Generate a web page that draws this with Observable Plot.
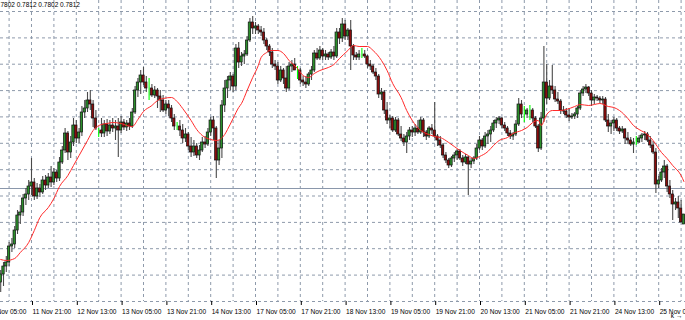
<!DOCTYPE html>
<html><head><meta charset="utf-8">
<script src="https://cdn.jsdelivr.net/npm/d3@7"></script>
<script src="https://cdn.jsdelivr.net/npm/@observablehq/plot@0.6"></script>
<style>
html,body{margin:0;padding:0;background:#fff;}
#chart{width:685px;height:320px;overflow:hidden;position:relative;}
</style></head><body><div id="chart"></div>
<script>
// Hourly NZDUSD candles, prices in pips (1/10000)
const openPips = [7744,7752,7760,7764,7780,7782,7796,7811,7814,7828,
7832,7840,7844,7830,7838,7834,7846,7841,7849,7844,
7854,7848,7864,7876,7893,7874,7884,7901,7888,7894,
7914,7918,7926,7922,7908,7896,7896,7893,7902,7895,
7901,7898,7900,7896,7904,7899,7903,7900,7914,7936,
7944,7951,7944,7938,7938,7931,7936,7930,7926,7916,
7922,7918,7908,7900,7900,7896,7888,7892,7880,7874,
7880,7871,7876,7884,7882,7894,7906,7898,7866,7878,
7921,7938,7946,7950,7940,7978,7964,7970,7972,7986,
8004,7998,8000,7996,7994,7986,7980,7974,7962,7960,
7946,7956,7948,7938,7960,7962,7956,7956,7946,7944,
7942,7952,7956,7973,7968,7976,7970,7972,7969,7974,
7970,7994,7988,8002,7990,7996,7980,7971,7969,7972,
7972,7970,7962,7960,7954,7950,7932,7934,7916,7906,
7908,7896,7906,7892,7888,7884,7890,7896,7894,7898,
7894,7906,7894,7890,7898,7896,7890,7886,7881,7871,
7866,7861,7868,7871,7875,7868,7864,7869,7862,7865,
7868,7878,7886,7880,7890,7892,7896,7903,7906,7908,
7901,7898,7893,7890,7892,7902,7922,7912,7912,7916,
7916,7908,7900,7878,7908,7944,7928,7940,7936,7927,
7925,7916,7915,7911,7909,7910,7912,7918,7933,7937,
7939,7933,7926,7929,7928,7926,7927,7906,7900,7903,
7906,7898,7895,7897,7888,7886,7882,7884,7884,7888,
7891,7892,7886,7881,7874,7842,7846,7854,7860,7840,
7832,7822,7824,7818,7802];
const highPips = [7756,7764,7770,7784,7788,7800,7816,7821,7832,7838,
7846,7868,7848,7843,7842,7850,7851,7853,7860,7858,
7856,7869,7880,7898,7895,7890,7908,7906,7898,7920,
7926,7934,7936,7926,7916,7898,7908,7906,7907,7906,
7908,7906,7908,7910,7907,7906,7908,7918,7940,7948,
7956,7959,7950,7948,7942,7940,7938,7936,7931,7926,
7926,7921,7912,7904,7906,7902,7898,7894,7889,7886,
7883,7881,7889,7890,7898,7909,7910,7900,7886,7926,
7946,7950,7954,7952,7982,7984,7974,7976,7990,8008,
8010,8004,8002,8000,7998,7988,7982,7978,7966,7964,
7960,7958,7960,7964,7966,7968,7960,7958,7950,7950,
7954,7960,7976,7978,7980,7978,7976,7974,7977,7980,
7998,7998,8008,8006,7998,8006,7982,7974,7976,7978,
7976,7971,7966,7962,7958,7952,7938,7936,7924,7911,
7910,7909,7908,7900,7892,7894,7899,7900,7902,7906,
7909,7908,7896,7900,7902,7924,7892,7890,7883,7874,
7868,7870,7874,7877,7877,7871,7872,7870,7868,7870,
7882,7890,7888,7894,7896,7900,7906,7909,7910,7909,
7904,7900,7896,7894,7906,7928,7926,7920,7918,7921,
7918,7910,7902,7914,7980,7962,7946,7961,7940,7934,
7927,7920,7918,7918,7913,7914,7920,7936,7940,7942,
7940,7936,7932,7931,7930,7930,7929,7912,7906,7909,
7908,7900,7900,7898,7894,7889,7888,7890,7891,7893,
7895,7894,7890,7885,7878,7850,7858,7866,7862,7846,
7836,7828,7830,7826,7812];
const lowPips = [7734,7740,7754,7760,7774,7778,7792,7802,7810,7821,
7826,7831,7826,7827,7829,7832,7836,7838,7839,7841,
7844,7845,7862,7873,7866,7868,7880,7883,7883,7890,
7908,7914,7916,7899,7896,7889,7889,7889,7890,7892,
7894,7886,7869,7893,7896,7895,7896,7898,7912,7929,
7932,7941,7934,7926,7929,7928,7918,7914,7914,7912,
7910,7904,7896,7896,7890,7883,7884,7876,7869,7870,
7868,7866,7874,7878,7880,7890,7886,7848,7861,7868,
7914,7928,7936,7934,7936,7958,7960,7962,7970,7984,
7992,7992,7992,7990,7982,7976,7970,7958,7956,7942,
7944,7942,7934,7936,7954,7956,7947,7942,7940,7938,
7940,7946,7954,7966,7966,7966,7966,7966,7967,7966,
7968,7982,7984,7986,7986,7956,7966,7966,7966,7968,
7968,7958,7956,7952,7946,7928,7926,7912,7902,7898,
7894,7894,7890,7885,7880,7873,7886,7889,7890,7892,
7892,7889,7886,7888,7892,7888,7880,7878,7868,7863,
7858,7859,7864,7866,7866,7860,7862,7831,7858,7862,
7866,7876,7876,7878,7882,7884,7894,7898,7902,7898,
7895,7890,7887,7886,7890,7900,7908,7904,7908,7906,
7904,7898,7874,7876,7904,7922,7926,7932,7924,7922,
7912,7912,7908,7905,7907,7907,7908,7916,7930,7933,
7930,7920,7922,7925,7923,7922,7904,7894,7892,7895,
7895,7892,7893,7882,7882,7880,7873,7881,7883,7884,
7886,7884,7878,7872,7833,7838,7844,7848,7834,7828,
7806,7816,7808,7804,7802];
const closePips = [7752,7760,7764,7780,7782,7796,7811,7814,7828,7832,
7840,7844,7830,7838,7834,7846,7841,7849,7844,7854,
7848,7864,7876,7893,7874,7884,7901,7888,7894,7914,
7918,7926,7922,7908,7898,7896,7893,7902,7895,7901,
7898,7900,7896,7904,7899,7903,7900,7914,7936,7944,
7951,7944,7938,7938,7931,7936,7930,7926,7916,7922,
7918,7908,7900,7900,7896,7888,7892,7880,7874,7880,
7871,7876,7884,7882,7894,7906,7898,7866,7878,7921,
7938,7946,7950,7940,7978,7964,7970,7972,7986,8004,
7998,8000,7996,7994,7986,7980,7974,7962,7960,7946,
7956,7948,7938,7960,7962,7956,7956,7946,7944,7942,
7952,7956,7973,7968,7976,7970,7972,7969,7974,7970,
7994,7988,8002,7990,7996,7980,7971,7969,7972,7972,
7970,7962,7960,7954,7950,7932,7934,7916,7906,7908,
7896,7906,7892,7888,7884,7890,7896,7894,7898,7894,
7906,7894,7890,7898,7896,7890,7886,7881,7871,7866,
7861,7868,7871,7875,7868,7864,7869,7862,7865,7868,
7878,7886,7880,7890,7892,7896,7903,7906,7908,7901,
7898,7893,7890,7892,7902,7922,7912,7912,7916,7916,
7908,7900,7878,7908,7944,7928,7940,7936,7927,7925,
7916,7915,7911,7909,7910,7912,7918,7933,7937,7939,
7933,7926,7929,7928,7926,7927,7906,7900,7903,7906,
7898,7895,7897,7888,7886,7882,7884,7884,7888,7891,
7892,7886,7881,7874,7842,7846,7854,7860,7840,7832,
7822,7824,7818,7804,7812];

// Moving average (red line), read at these bars
const maBars = [0,2,5,7,10,12,14,17,19,21,24,26,28,31,33,36,38,40,43,45,47,49,51,54,56,58,61,63,65,68,70,72,75,77,80,81,83,85,86,88,90,92,93,95,96,99,101,103,106,108,110,112,114,117,119,121,124,126,128,131,133,136,138,140,143,145,147,150,152,155,157,160,162,164,167,169,171,174,176,178,181,183,186,188,190,192,193,195,197,200,202,205,207,210,212,214,217,219,221,224,226,228,231,233,236,238,240,243,244];
const maPips = [7767,7766,7768,7774,7784,7796,7809,7819,7828,7840,7851,7861,7871,7886,7896,7902,7903,7904,7903,7901,7900,7907,7915,7921,7926,7928,7929,7925,7918,7906,7897,7891,7887,7886,7892,7897,7908,7919,7923,7936,7949,7961,7969,7974,7976,7976,7973,7966,7958,7951,7949,7953,7956,7959,7962,7968,7976,7981,7980,7980,7976,7966,7956,7943,7929,7916,7906,7896,7893,7890,7889,7884,7880,7876,7871,7868,7870,7875,7881,7886,7889,7893,7896,7899,7904,7906,7901,7912,7916,7916,7917,7920,7922,7921,7922,7923,7920,7919,7916,7908,7901,7897,7892,7886,7874,7868,7861,7851,7845];

const levelPrice = 0.7838;
const quoteText = "0.7802 0.7812 0.7802 0.7812";
const tickBars = [-5,11,27,43,59,75,91,107,123,139,155,171,187,203,219,235];
const tickLabels = ["11 Nov 05:00","11 Nov 21:00","12 Nov 13:00","13 Nov 05:00","13 Nov 21:00","14 Nov 13:00","17 Nov 05:00","17 Nov 21:00","18 Nov 13:00","19 Nov 05:00","19 Nov 21:00","20 Nov 13:00","21 Nov 05:00","21 Nov 21:00","24 Nov 13:00","25 Nov 05:00"];
const gridBars = [3,11,19,27,35,43,51,59,67,75,83,91,99,107,115,123,131,139,147,155,163,171,179,187,195,203,211,219,227,235,243];
const gridPrices = [0.8015,0.79886,0.79623,0.79359,0.79096,0.78832,0.78568,0.78305,0.78041,0.77778,0.77514,0.7725];

const candles = openPips.map((o, i) => ({
  k: i, open: o / 10000, high: highPips[i] / 10000, low: lowPips[i] / 10000, close: closePips[i] / 10000
}));
const ma = maBars.map((k, i) => ({k, v: maPips[i] / 10000}));
const labelMap = new Map(tickBars.map((b, i) => [b, tickLabels[i]]));

const gridColor = "#8e9aab";
const chart = Plot.plot({
  width: 685, height: 320,
  marginTop: 0, marginBottom: 19, marginLeft: 0, marginRight: 0,
  x: {type: "linear", domain: [-0.0714, 244.571]},
  y: {domain: [0.7725, 0.8026], axis: null},
  color: {type: "identity"},
  style: {background: "#fff", fontFamily: "'Liberation Sans', Arial, sans-serif", overflow: "hidden"},
  marks: [
    Plot.ruleY(gridPrices, {stroke: gridColor, strokeDasharray: "3,3"}),
    Plot.ruleX(gridBars, {stroke: gridColor, strokeDasharray: "3,3"}),
    Plot.ruleY([levelPrice], {stroke: "#8a97ab", strokeWidth: 1}),
    Plot.ruleX(candles, {x: "k", y1: "low", y2: "high",
      stroke: d => d.open === d.close ? "#00ff00" : "#4a4a4a", strokeWidth: 1.1}),
    Plot.rect(candles.filter(d => d.open !== d.close), {
      x1: d => d.k - 0.42, x2: d => d.k + 0.42, y1: "open", y2: "close",
      fill: d => d.close > d.open ? "#2b8f2b" : "#8b0c0c",
      stroke: "#111", strokeWidth: 0.7}),
    Plot.line(ma, {x: "k", y: "v", stroke: "#ff2a2a", strokeWidth: 1, curve: "monotone-x"}),
    Plot.text([quoteText], {frameAnchor: "top-left", text: d => d, textAnchor: "start", lineAnchor: "top",
      dx: -5.5, dy: 2, fontSize: 6.5, fill: "#000"}),
    Plot.axisX({ticks: tickBars, tickFormat: d => labelMap.get(d), textAnchor: "start", dx: 1,
      tickSize: 4, tickPadding: 4, fontSize: 6.6, stroke: "#000", fill: "#000"})
  ]
});
document.getElementById("chart").appendChild(chart);
</script>
</body></html>
